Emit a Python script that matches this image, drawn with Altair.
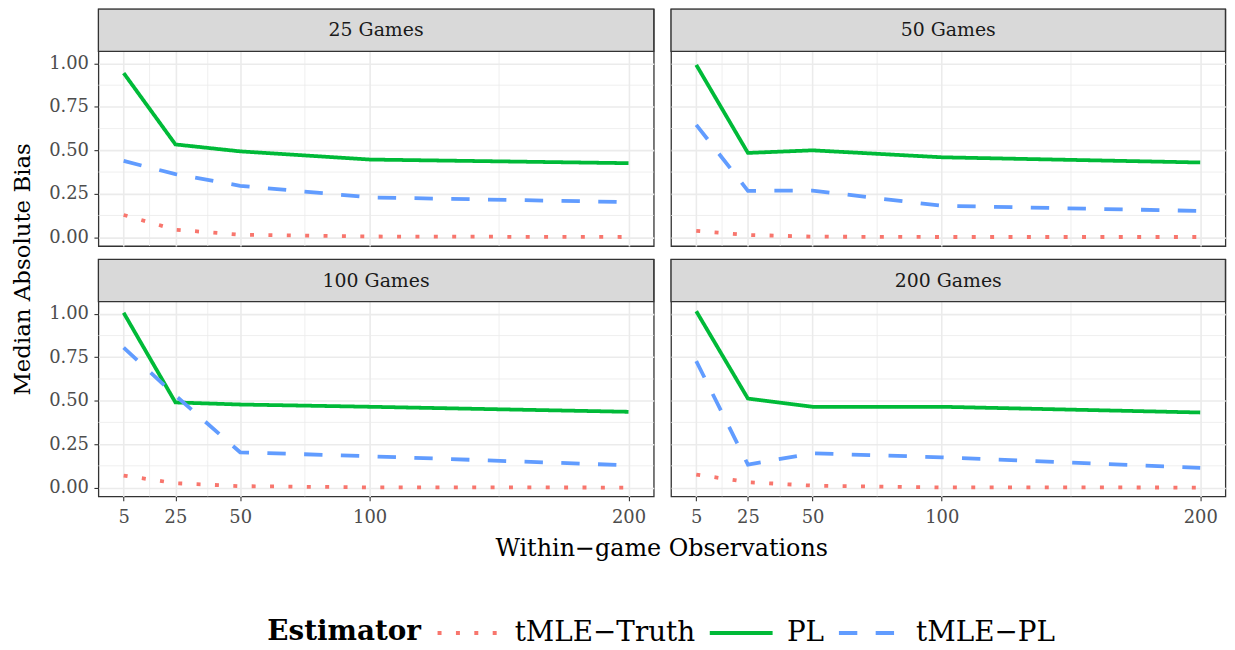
import altair as alt
import pandas as pd

FONT = "DejaVu Serif"

games = ["25 Games", "50 Games", "100 Games", "200 Games"]
obs = [5, 25, 50, 100, 200]
estimators = ["tMLE−Truth", "PL", "tMLE−PL"]
colors = ["#F8766D", "#00BA38", "#619CFF"]
dashes = [[4, 14.5], [1, 0], [18.5, 18.5]]

# Median absolute bias per panel
truth_25 = [0.128, 0.043, 0.014, 0.004, 0.001]
pl_25 = [0.945, 0.534, 0.494, 0.447, 0.426]
tmle_pl_25 = [0.439, 0.363, 0.296, 0.229, 0.202]

truth_50 = [0.036, 0.013, 0.003, 0.001, 0.001]
pl_50 = [0.992, 0.485, 0.500, 0.460, 0.430]
tmle_pl_50 = [0.647, 0.267, 0.268, 0.181, 0.151]

truth_100 = [0.069, 0.025, 0.008, 0.001, 0.000]
pl_100 = [1.006, 0.490, 0.478, 0.465, 0.436]
tmle_pl_100 = [0.805, 0.530, 0.203, 0.180, 0.128]

truth_200 = [0.075, 0.031, 0.011, 0.001, 0.000]
pl_200 = [1.015, 0.512, 0.465, 0.465, 0.432]
tmle_pl_200 = [0.728, 0.132, 0.197, 0.174, 0.113]

y_major = [0.0, 0.25, 0.5, 0.75, 1.0]
y_minor = [0.125, 0.375, 0.625, 0.875]
x_major = [5, 25, 50, 100, 200]
x_minor = [15, 37.5, 75, 150]

series = {
    "25 Games": [truth_25, pl_25, tmle_pl_25],
    "50 Games": [truth_50, pl_50, tmle_pl_50],
    "100 Games": [truth_100, pl_100, tmle_pl_100],
    "200 Games": [truth_200, pl_200, tmle_pl_200],
}

rows = []
for g in games:
    for est, vals in zip(estimators, series[g]):
        for o, v in zip(obs, vals):
            rows.append({"game": g, "est": est, "obs": o, "bias": v})
df = pd.DataFrame(rows)

PLOT_H = 196
STRIP_H = 42.5
X_LO, X_HI = -4.75, 209.75
Y_LO, Y_HI = -0.051, 1.070
Y_TOP = Y_HI + STRIP_H * (Y_HI - Y_LO) / PLOT_H  # strip sits above the data area

XS = alt.Scale(domain=[X_LO, X_HI], nice=False, zero=False)
YS = alt.Scale(domain=[Y_LO, Y_TOP], nice=False, zero=False)

GRID = "#EBEBEB"

legend = alt.Legend(
    title=None, orient="none", legendX=429, legendY=594,
    direction="horizontal",
    labelFont=FONT, labelFontSize=28, labelColor="black", labelOffset=12,
    labelLimit=400, columnPadding=6, symbolType="stroke", symbolSize=4000,
    symbolStrokeWidth=3.8,
)


def x_axis(show):
    if show:
        return alt.Axis(values=x_major, format="d", grid=True, gridColor=GRID, gridWidth=1.6,
                        domain=False, tickColor="#333333", tickSize=4.5, tickWidth=1.1,
                        labelColor="#4D4D4D", labelFont=FONT, labelFontSize=18,
                        labelPadding=8, title=None)
    return alt.Axis(values=x_major, grid=True, gridColor=GRID, gridWidth=1.6,
                    domain=False, ticks=False, labels=False, title=None,
                    minExtent=0, maxExtent=0)


def y_axis(show):
    if show:
        return alt.Axis(values=y_major, format=".2f", grid=True, gridColor=GRID, gridWidth=1.6,
                        domain=False, tickColor="#333333", tickSize=4.5, tickWidth=1.1,
                        labelColor="#4D4D4D", labelFont=FONT, labelFontSize=18,
                        labelPadding=5.5, title=None, minExtent=60, maxExtent=60)
    return alt.Axis(values=y_major, grid=True, gridColor=GRID, gridWidth=1.6,
                    domain=False, ticks=False, labels=False, title=None,
                    minExtent=0, maxExtent=0)


def panel(g, show_y, show_x, w):
    d = df[df.game == g]
    xa = x_axis(show_x)
    ya = y_axis(show_y)

    def xenc(field):
        return alt.X(field, type="quantitative", scale=XS, axis=xa)

    def yenc(field):
        return alt.Y(field, type="quantitative", scale=YS, axis=ya)

    vmin = alt.Chart(pd.DataFrame({"x": x_minor, "y0": Y_LO, "y1": Y_HI})).mark_rule(
        color=GRID, strokeWidth=0.8, strokeJoin="bevel"
    ).encode(x=xenc("x"), y=yenc("y0"), y2="y1")
    hmin = alt.Chart(pd.DataFrame({"y": y_minor})).mark_rule(
        color=GRID, strokeWidth=0.8, strokeJoin="bevel"
    ).encode(y=yenc("y"))

    lines = []
    for est in estimators:
        lines.append(
            alt.Chart(d).transform_filter(alt.datum.est == est)
            .mark_line(strokeWidth=3.8, strokeCap="butt", strokeJoin="miter")
            .encode(
                x=xenc("obs"),
                y=yenc("bias"),
                color=alt.Color("est:N", scale=alt.Scale(domain=estimators, range=colors), legend=legend),
                strokeDash=alt.StrokeDash("est:N", scale=alt.Scale(domain=estimators, range=dashes), legend=legend),
            )
        )

    strip_df = pd.DataFrame({"label": [g]})
    strip_box = alt.Chart(strip_df).mark_rect(
        fill="#D9D9D9", stroke="#333333", strokeWidth=1.3
    ).encode(x=alt.value(0), x2=alt.value(w), y=alt.value(0), y2=alt.value(STRIP_H))
    strip_txt = alt.Chart(strip_df).mark_text(
        font=FONT, fontSize=19, color="#1A1A1A"
    ).encode(text="label:N", x=alt.value(w / 2), y=alt.value(STRIP_H / 2))

    return alt.layer(vmin, hmin, *lines, strip_box, strip_txt).properties(
        width=w, height=PLOT_H + STRIP_H,
        view=alt.ViewBackground(fill="white", stroke="#333333", strokeWidth=1.3),
    )


row1 = alt.hconcat(panel(games[0], True, False, 559), panel(games[1], False, False, 558), spacing=13.4)
row2 = alt.hconcat(panel(games[2], True, True, 559), panel(games[3], False, True, 558), spacing=13.4)
grid = alt.vconcat(row1, row2, spacing=10)

ytitle = alt.Chart(pd.DataFrame({"t": ["Median Absolute Bias"]})).mark_text(
    angle=270, font=FONT, fontSize=23, color="black"
).encode(text="t:N", x=alt.value(14), y=alt.value(262)).properties(
    width=28, height=490, view=alt.ViewBackground(stroke="transparent"))

# bottom band: x-axis title and the legend's title
xtitle = alt.Chart(pd.DataFrame({"t": ["Within−game Observations"]})).mark_text(
    font=FONT, fontSize=24, color="black"
).encode(text="t:N", x=alt.value(657), y=alt.value(15))
legtitle = alt.Chart(pd.DataFrame({"t": ["Estimator"]})).mark_text(
    font=FONT, fontSize=28, fontWeight="bold", color="black", align="left"
).encode(text="t:N", x=alt.value(260), y=alt.value(99))
bottom = alt.layer(xtitle, legtitle).properties(
    width=1200, height=110, view=alt.ViewBackground(stroke="transparent"))

chart = alt.vconcat(
    alt.hconcat(ytitle, grid, spacing=0),
    bottom,
    spacing=5,
).properties(
    padding={"left": 0, "top": -3, "right": 0, "bottom": 0}
).configure(font=FONT).configure_view(stroke="#333333")

chart.save("out.html", embed_options={"renderer": "svg", "actions": False})
